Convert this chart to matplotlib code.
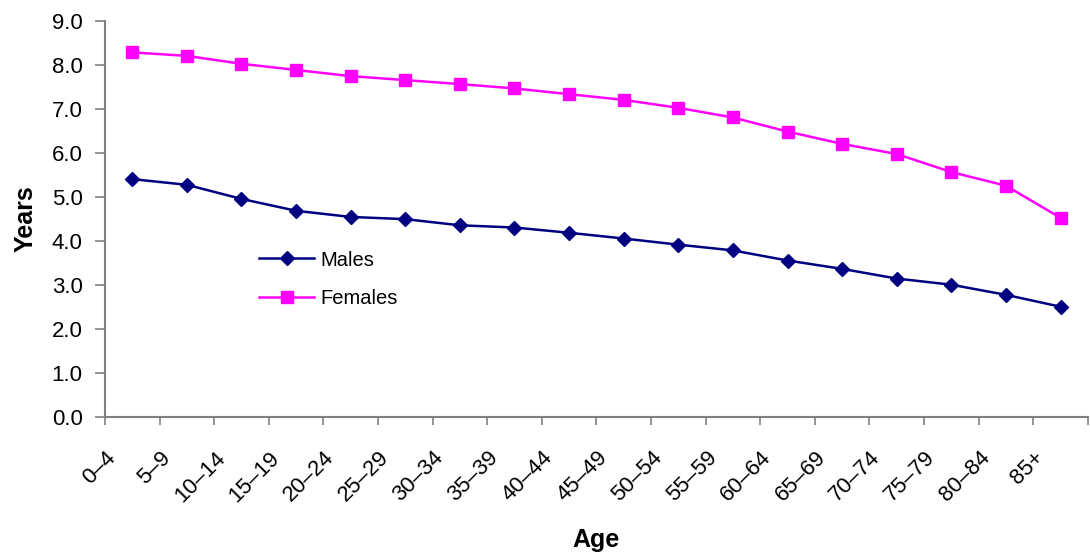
import matplotlib
matplotlib.use("Agg")
import matplotlib.pyplot as plt
import matplotlib.transforms as mtransforms
import numpy as np

age_groups = ["0–4", "5–9", "10–14", "15–19", "20–24", "25–29", "30–34", "35–39",
              "40–44", "45–49", "50–54", "55–59", "60–64", "65–69", "70–74", "75–79",
              "80–84", "85+"]
males = [5.40, 5.27, 4.95, 4.68, 4.54, 4.49, 4.35, 4.30, 4.18, 4.05, 3.91, 3.78,
         3.55, 3.36, 3.14, 3.00, 2.77, 2.50]
females = [8.28, 8.20, 8.02, 7.88, 7.74, 7.65, 7.56, 7.46, 7.33, 7.20, 7.02, 6.80,
           6.48, 6.20, 5.97, 5.56, 5.25, 4.52]
y_ticks = [0.0, 1.0, 2.0, 3.0, 4.0, 5.0, 6.0, 7.0, 8.0, 9.0]

plt.rcParams['font.family'] = ['Liberation Sans', 'DejaVu Sans']

fig = plt.figure(figsize=(10.9, 5.56), dpi=100)
ax = fig.add_axes([0.0963, 0.2505, 0.9017, 0.7123])

x = np.arange(len(age_groups))
ax.plot(x, males, color="#000080", lw=1.8, marker="D", ms=7,
        markeredgecolor="#000080", label="Males")
ax.plot(x, females, color="#FF00FF", lw=1.8, marker="s", ms=8.6,
        markeredgecolor="#FF00FF", label="Females")

ax.set_xlim(-0.5, len(age_groups) - 0.5)
ax.set_ylim(0, 9)
ax.set_yticks(y_ticks)
ax.set_yticklabels([f"{v:.1f}" for v in y_ticks], fontsize=16)

ax.set_xticks(x)
ax.set_xticklabels(age_groups, fontsize=16, rotation=45, ha="right", va="top")
ax.set_xticks(np.arange(len(age_groups) + 1) - 0.5, minor=True)
ax.tick_params(axis="x", which="major", length=0, pad=22)
ax.tick_params(axis="x", which="minor", length=6, width=1.2, color="#808080",
               direction="out")
ax.tick_params(axis="y", length=7, width=1.2, color="#808080", direction="out",
               pad=9)

shift = mtransforms.ScaledTranslation(-12 / 100, 0, fig.dpi_scale_trans)
for lbl in ax.get_xticklabels():
    lbl.set_transform(lbl.get_transform() + shift)

for side in ("top", "right"):
    ax.spines[side].set_visible(False)
for side in ("left", "bottom"):
    ax.spines[side].set_color("#808080")
    ax.spines[side].set_linewidth(1.5)

ax.set_ylabel("Years", fontsize=18, fontweight="bold", labelpad=10)
ax.set_xlabel("Age", fontsize=18, fontweight="bold", labelpad=16)

ax.legend(loc="upper left", bbox_to_anchor=(0.149, 0.44), frameon=False,
          fontsize=14.5, handlelength=2.7, handletextpad=0.3,
          labelspacing=0.95, borderaxespad=0)

fig.savefig("out.png", dpi=100)
